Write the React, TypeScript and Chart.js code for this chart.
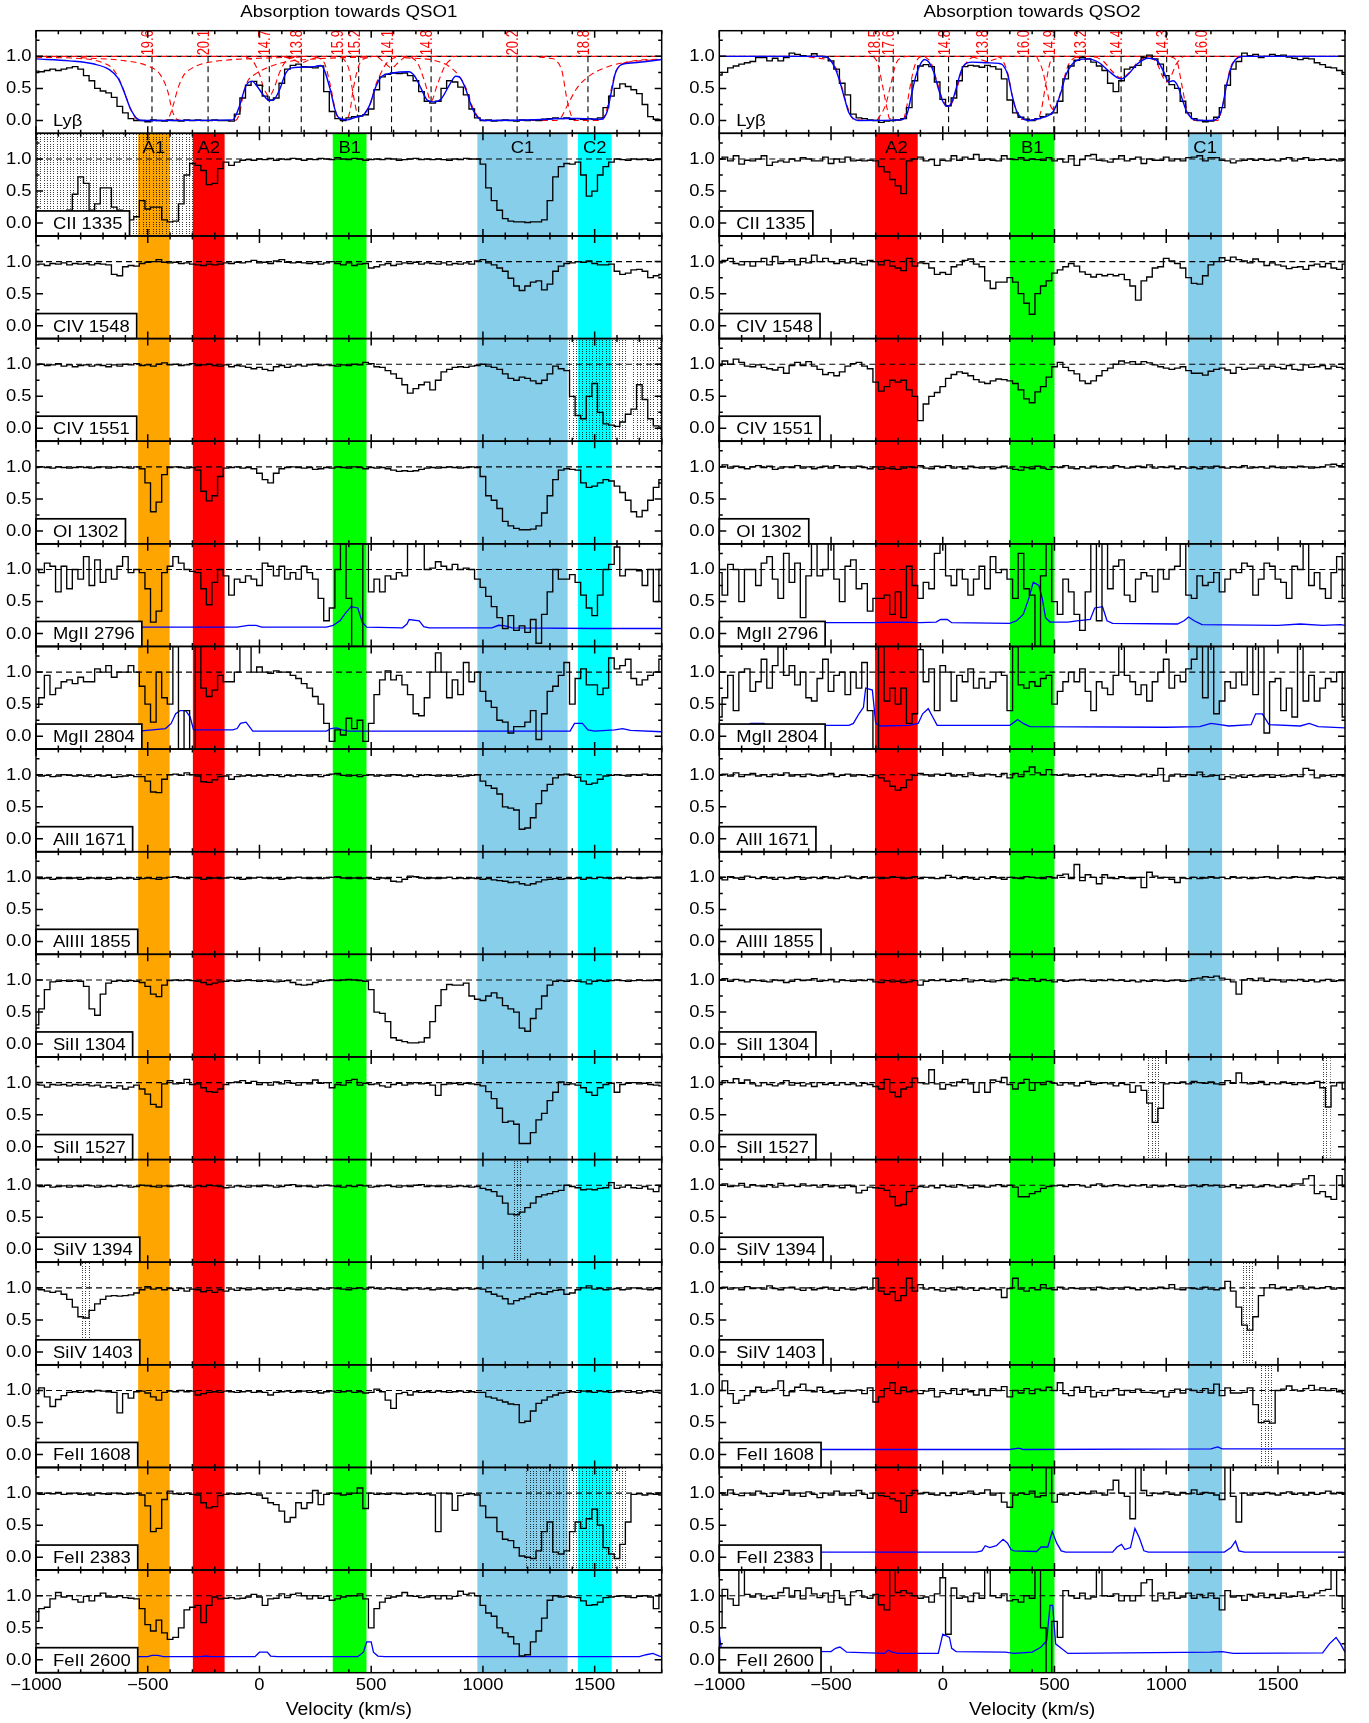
import React, { useEffect, useRef } from 'react';
import { Chart, registerables } from 'chart.js';
Chart.register(...registerables);

// ---------------- axes / grid ----------------
const V_START = -1000;
const V_STEP = 25;
const X_MIN = -1000;
const X_MAX = 1800;
const Y_MIN = -0.2;
const Y_MAX = 1.4;
const X_TICKS = [-1000, -500, 0, 500, 1000, 1500];
const Y_TICKS = [0, 0.5, 1.0];
const PANEL_LABELS = ['Ly\u03b2', 'CII 1335', 'CIV 1548', 'CIV 1551', 'OI 1302', 'MgII 2796', 'MgII 2804', 'AlII 1671', 'AlIII 1855', 'SiII 1304', 'SiII 1527', 'SiIV 1394', 'SiIV 1403', 'FeII 1608', 'FeII 2383', 'FeII 2600'];

// ---------------- QSO1 spectra (flux x100, bins of 25 km/s from -1000) ----------------
const L_LYB = [77,76,78,80,78,80,82,84, 80,70,62,50,46,43,36,22, 12,3,0,0,-2,1,0,-1, 1,0,-1,1,0,1,0,0, 1,0,0,-1,10,35,55,61, 55,38,32,35,58,80,86,88, 84,83,82,85,45,14,3,0, 4,6,7,9,18,48,68,72, 74,73,74,70,62,45,30,27, 30,50,62,60,52,40,18,4, 0,1,-1,0,1,0,-1,1, 0,1,0,2,3,4,3,4, 2,3,2,3,2,4,20,38, 50,57,53,48,42,25,6,2, 1];
const L_CII = [15,12,18,15,10,15,20,45, 72,62,20,30,55,55,25,20, 18,5,10,35,22,25,25,5, 2,3,30,75,93,90,82,60, 62,85,95,90,95,98,99,98, 100,99,101,98,100,99,101,100, 98,100,99,101,100,99,102,100, 99,101,100,98,99,100,99,101, 100,98,99,100,101,99,100,99, 100,99,98,100,99,101,100,100, 92,55,35,20,7,3,2,2, 1,2,2,5,35,72,88,93, 92,95,75,42,50,75,88,95, 100,99,98,100,99,100,98,99, 99];
const L_CIV1548 = [95,96,94,97,96,98,95,97, 96,97,95,97,96,95,80,78, 92,94,93,97,99,100,103,99, 98,99,97,98,96,95,94,96, 95,96,98,97,99,98,100,102, 98,99,97,101,103,99,98,99, 98,97,99,96,98,100,97,95, 98,94,96,97,90,92,95,97, 94,96,98,97,99,96,98,97, 96,98,95,97,96,98,96,101, 103,98,95,90,85,74,62,55, 62,68,70,56,65,85,93,97, 98,100,99,101,97,95,95,96, 85,80,82,87,88,85,75,78, 80];
const L_CIV1551 = [99,100,98,99,101,97,99,96, 98,99,97,99,98,96,99,97, 100,99,101,98,99,97,100,102, 99,100,98,99,101,98,99,100, 98,97,99,96,98,97,95,93, 95,92,90,96,98,95,97,99, 97,99,100,98,99,98,97,99, 98,100,99,103,101,96,95,90, 85,78,68,55,62,68,72,60, 75,88,92,95,96,95,97,98, 100,97,95,92,85,78,75,80, 78,74,70,75,85,97,93,90, 50,20,15,50,70,25,7,5, 3,10,22,30,68,45,15,4, 2];
const L_OI = [99,100,99,98,100,99,98,99, 100,99,98,99,100,98,99,100, 99,98,100,97,75,30,45,88, 99,100,99,98,99,95,62,47, 55,85,98,99,100,98,99,97, 90,80,75,90,97,99,100,99, 98,99,96,97,99,98,100,99, 98,100,99,97,99,98,99,97, 95,93,94,93,94,96,98,99, 98,99,100,99,98,99,100,99, 85,55,48,35,15,8,4,2, 2,3,8,28,55,80,95,97, 96,95,75,68,70,75,80,78, 70,60,48,30,22,32,48,68, 80];
const L_MG2796 = [100,95,110,105,65,105,70,100, 85,120,75,115,80,100,85,105, 120,95,100,95,70,18,35,95, 105,120,110,100,97,95,70,45, 80,100,90,60,85,80,90,85, 75,110,105,90,105,85,95,85, 105,95,85,55,20,40,100,145, 55,-25,-25,145,65,85,65,90, 85,95,90,145,145,140,100,102, 112,105,100,108,100,102,100,85, 72,58,42,25,8,28,5,12, 2,22,-15,30,65,100,85,85, 92,80,60,40,28,60,100,108, 135,90,100,100,98,75,100,50, 100];
const L_MG2804 = [45,60,95,65,75,85,88,82, 92,85,85,105,100,110,92,100, 100,110,100,78,50,22,100,60, 50,140,-25,40,-25,145,75,62, 72,95,85,85,100,145,140,100, 108,100,98,102,100,100,95,90, 82,75,62,50,20,-8,10,2, 28,12,25,-8,20,65,88,102, 88,95,80,65,35,32,60,100, 130,100,60,88,65,115,85,100, 70,55,45,25,22,5,15,15, 22,40,-5,35,70,78,95,115, 50,90,105,80,80,65,75,122, 105,110,120,90,80,88,95,100, 120];
const L_AL2 = [99,98,99,97,98,100,99,98, 99,98,97,99,98,99,96,97, 98,99,97,97,90,73,72,93, 100,101,99,103,100,98,89,88, 92,97,98,93,97,98,99,98, 99,98,100,99,97,99,98,100, 99,98,100,97,99,101,102,99, 98,99,97,99,100,98,99,98, 100,99,98,99,97,99,100,99, 98,99,98,99,97,98,99,100, 90,83,79,70,50,48,45,15, 17,33,55,75,85,95,100,101, 99,96,90,85,87,93,98,99, 100,99,98,100,99,101,99,100, 99];
const L_AL3 = [99,98,99,97,98,99,98,99, 97,98,99,98,99,97,98,99, 98,99,97,98,99,98,97,99, 100,101,99,98,100,99,97,98, 99,98,99,100,98,97,98,99, 100,99,98,99,97,98,99,100, 99,98,99,98,99,100,101,99, 98,99,98,99,98,97,99,98, 94,93,97,102,101,99,98,99, 98,99,100,98,99,98,99,98, 97,98,96,95,94,92,93,90, 88,90,93,96,97,98,97,98, 98,99,97,99,98,100,99,98, 99,98,100,99,98,99,100,99, 99];
const L_SI1304 = [30,55,85,97,98,99,98,99, 98,90,55,45,78,95,98,99, 98,99,98,96,90,78,74,92, 99,100,99,100,99,98,96,93, 95,97,98,99,98,99,100,99, 98,99,98,97,98,99,96,93, 92,93,96,98,99,100,99,100, 101,100,99,98,85,50,48,35, 10,6,4,2,2,3,10,35, 60,85,93,92,92,95,75,70, 68,75,80,72,60,55,50,25, 20,40,55,75,92,98,99,98, 99,98,97,94,98,99,98,99, 100,99,98,99,100,99,99,100, 99];
const L_SI1527 = [97,96,93,97,96,97,95,97, 96,97,95,96,93,95,92,95, 90,93,96,90,82,66,62,98, 103,98,99,105,97,98,92,86, 85,90,97,100,101,103,99,102, 97,100,96,101,98,103,99,96, 100,98,104,99,100,92,97,96, 103,105,96,99,97,98,95,93, 97,99,96,98,100,98,99,96, 80,97,98,99,97,99,98,97, 95,86,75,60,38,40,35,5, 5,22,42,52,72,85,101,97, 98,96,92,85,80,92,97,99, 85,97,99,100,98,99,97,96, 95];
const L_SI1394 = [99,98,100,97,98,99,97,99, 98,100,99,97,98,99,98,100, 99,97,98,100,99,98,97,99, 98,99,100,98,97,99,98,100, 99,98,96,97,99,98,97,99, 98,100,99,97,98,100,101,98, 99,98,97,99,100,99,98,97, 99,98,100,99,97,98,99,100, 98,97,99,98,100,101,98,99, 98,99,97,98,99,98,97,98, 95,93,90,83,72,55,54,58, 65,72,82,85,87,90,92,100, 98,96,93,94,93,95,96,104, 95,97,100,96,95,98,94,90, 98];
const L_SI1403 = [98,97,95,93,95,90,82,70, 55,53,65,75,82,87,88,87, 88,89,92,97,102,98,100,97, 99,96,99,95,98,97,94,96, 93,97,95,98,96,99,97,98, 99,97,98,100,96,99,98,97, 99,98,97,99,98,100,99,98, 97,99,100,98,101,99,98,100, 99,98,97,99,100,98,99,97, 98,99,98,97,99,100,98,99, 98,94,90,87,83,75,80,83, 86,90,92,90,94,96,97,90, 92,97,100,103,98,99,97,98, 99,97,98,100,99,98,97,99, 98];
const L_FE1608 = [95,104,90,75,86,92,97,98, 97,99,98,100,99,98,97,65, 95,88,98,99,96,90,85,97, 99,98,100,98,99,93,95,97, 98,97,99,98,97,98,99,97, 98,97,93,97,98,99,97,98, 99,97,98,96,98,99,97,98, 99,97,98,96,97,102,98,85, 72,95,97,93,98,97,98,97, 99,98,97,98,99,97,98,97, 97,90,88,85,82,79,78,50, 52,68,80,85,90,93,96,97, 98,97,99,98,97,99,98,97, 98,99,97,98,96,98,99,97, 96];
const L_FE2383 = [99,98,100,99,101,98,99,100, 98,99,97,100,99,98,100,99, 98,99,100,97,80,40,45,90, 103,99,98,100,98,97,85,77, 79,96,98,99,98,99,100,98, 97,92,85,82,72,55,62,85, 76,85,104,82,98,100,99,97, 98,100,108,76,100,98,99,98, 100,99,98,99,100,98,99,97, 40,100,99,73,96,98,99,97, 80,62,62,40,28,26,15,2, 0,-2,10,40,55,8,5,10, 40,55,45,60,75,50,15,5, -2,20,55,98,99,97,99,98, 97];
const L_FE2600 = [60,80,82,95,105,98,100,94, 90,99,92,100,104,98,98,100, 97,96,95,80,55,45,62,42, 32,35,50,78,82,85,58,85, 98,95,96,97,95,96,98,102, 98,85,95,96,103,97,102,104, 100,95,100,96,99,93,95,98, 100,100,103,95,50,80,90,96, 98,100,105,100,99,97,98,100, 95,100,95,99,107,102,104,100, 85,73,68,50,42,36,25,6, 8,28,45,65,93,100,98,99, 98,97,92,85,86,90,97,98, 99,100,98,97,99,100,98,80, 102];

// QSO1 error spectra [velocity, flux]
const L_MG2796_ERR = [[-1000,0.1],[-100,0.1],[-50,0.13],[-15,0.13],[10,0.1],[300,0.1],[330,0.13],[360,0.2],[385,0.32],[410,0.42],[440,0.4],[460,0.18],[480,0.1],[640,0.09],[660,0.15],[670,0.22],[715,0.2],[735,0.11],[760,0.09],[1040,0.09],[1070,0.13],[1100,0.12],[1130,0.09],[1500,0.08],[1800,0.08]];
const L_MG2804_ERR = [[-1000,0.08],[-540,0.08],[-420,0.12],[-395,0.2],[-375,0.35],[-355,0.4],[-330,0.4],[-310,0.3],[-295,0.1],[-120,0.1],[-100,0.12],[-85,0.2],[-60,0.22],[-45,0.15],[-30,0.08],[300,0.08],[320,0.12],[345,0.13],[370,0.1],[400,0.08],[1390,0.08],[1410,0.2],[1445,0.2],[1470,0.1],[1500,0.08],[1590,0.1],[1625,0.12],[1660,0.09],[1800,0.07]];
const L_FE2600_ERR = [[-1000,0.05],[-500,0.05],[-480,0.07],[-455,0.07],[-430,0.05],[-260,0.05],[-240,0.06],[-220,0.05],[-20,0.05],[0,0.12],[35,0.12],[50,0.06],[80,0.05],[440,0.05],[465,0.12],[480,0.28],[500,0.28],[510,0.12],[530,0.06],[560,0.05],[1700,0.05],[1730,0.08],[1760,0.1],[1790,0.06],[1800,0.05]];

// QSO1 Lyβ fit and components
const L_FIT = [[-1000,0.96],[-850,0.93],[-740,0.88],[-670,0.79],[-633,0.66],[-606,0.45],[-578,0.19],[-551,0.04],[-524,0],[-120,0.01],[-93,0.19],[-65,0.5],[-47,0.6],[-32,0.61],[-10,0.53],[17,0.4],[45,0.31],[63,0.32],[90,0.48],[118,0.74],[145,0.82],[182,0.83],[246,0.84],[274,0.86],[292,0.77],[319,0.45],[338,0.17],[356,0.04],[393,0.01],[429,0.05],[466,0.09],[493,0.24],[521,0.53],[548,0.69],[594,0.74],[668,0.76],[695,0.69],[723,0.5],[750,0.32],[778,0.29],[814,0.34],[851,0.56],[878,0.69],[897,0.67],[924,0.48],[952,0.19],[979,0.04],[1007,0],[1300,0.02],[1346,0.03],[1419,0.03],[1529,0.02],[1556,0.14],[1575,0.45],[1593,0.74],[1620,0.87],[1675,0.9],[1800,0.95]];
const L_COMP_V = [-481, -230, 44, 187, 371, 444, 591, 768, 1153, 1470];
const L_COMP_LOGN = ['19.6', '20.1', '14.7', '13.8', '15.9', '15.2', '14.1', '14.8', '20.2', '18.8'];
const L_COMP_PROFILES = [
  [[-1000,0.985],[-780,0.96],[-700,0.9],[-660,0.82],[-630,0.66],[-605,0.45],[-580,0.2],[-555,0.04],[-530,0],[-430,0],[-405,0.05],[-385,0.25],[-365,0.5],[-340,0.7],[-300,0.82],[-250,0.89],[-150,0.94],[0,0.97],[200,0.99]],
  [[-800,0.98],[-600,0.93],[-500,0.85],[-445,0.72],[-410,0.45],[-390,0.15],[-370,0.02],[-350,0],[-110,0],[-90,0.1],[-70,0.45],[-50,0.63],[-20,0.72],[20,0.8],[100,0.9],[250,0.96],[500,0.99]],
  [[-60,0.99],[-30,0.93],[0,0.72],[20,0.5],[44,0.38],[65,0.5],[90,0.75],[120,0.93],[160,0.99]],
  [[110,0.99],[150,0.95],[187,0.9],[225,0.95],[265,0.99]],
  [[250,0.99],[290,0.9],[320,0.5],[340,0.15],[355,0.02],[390,0.02],[405,0.15],[420,0.5],[450,0.9],[490,0.99]],
  [[370,0.99],[400,0.8],[420,0.4],[444,0.06],[470,0.12],[495,0.25],[520,0.55],[545,0.75],[570,0.9],[610,0.99]],
  [[530,0.99],[560,0.9],[591,0.82],[620,0.9],[650,0.99]],
  [[680,0.99],[710,0.88],[740,0.6],[768,0.3],[795,0.55],[830,0.85],[870,0.99]],
  [[650,0.98],[800,0.92],[880,0.75],[925,0.5],[955,0.2],[985,0.03],[1010,0],[1320,0],[1350,0.05],[1380,0.25],[1420,0.5],[1470,0.68],[1530,0.8],[1600,0.88],[1700,0.93],[1800,0.95]],
  [[1250,0.99],[1300,0.97],[1330,0.93],[1355,0.75],[1375,0.35],[1395,0.08],[1410,0],[1530,0],[1550,0.12],[1570,0.42],[1590,0.72],[1615,0.86],[1660,0.92],[1800,0.96]],
];

// ---------------- QSO2 spectra ----------------
const R_LYB = [71,75,82,85,88,90,92,98, 98,93,97,93,98,105,103,101, 100,104,100,99,93,80,58,40, 10,4,3,1,0,-3,-1,0, 1,3,20,62,85,87,84,60, 33,23,35,62,84,86,85,83, 86,84,80,65,32,12,5,2, 0,3,6,10,12,30,65,85, 94,98,96,91,85,78,58,45, 62,80,83,86,98,102,96,88, 70,56,50,30,12,3,0,-2, -1,5,20,55,80,92,105,101, 103,98,100,103,101,102,99,97, 95,97,96,90,87,83,82,78, 72];
const R_CII = [100,103,97,105,92,98,97,100, 105,90,95,97,95,100,97,102, 100,97,97,103,93,100,95,103, 97,98,97,98,97,88,80,68, 58,46,97,100,103,97,99,90, 98,97,105,98,103,100,107,98, 100,98,97,105,100,99,102,98, 100,99,98,102,97,100,95,105, 90,99,105,107,98,97,95,100, 105,97,100,103,93,100,98,98, 103,97,100,97,102,103,105,97, 102,102,98,97,94,97,98,100, 98,100,98,99,97,100,102,97, 100,102,98,99,100,98,99,97, 98];
const R_CIV1548 = [98,102,105,97,95,100,93,100, 105,95,108,97,100,103,95,105, 98,110,100,105,100,97,103,98, 105,97,95,102,100,95,102,93, 90,86,105,93,98,97,90,80, 83,80,92,95,102,104,96,92, 70,58,68,68,75,68,50,35, 18,50,62,70,82,87,92,97, 93,84,80,76,80,78,80,78, 80,72,62,40,70,76,90,92, 105,101,97,90,75,66,65,78, 95,100,106,102,107,103,101,98, 104,100,94,98,95,93,89,91, 92,88,94,96,92,97,90,88, 96];
const R_CIV1551 = [98,105,100,108,103,97,96,99, 95,93,91,95,86,98,103,98, 104,97,92,84,87,82,88,97, 101,103,97,93,72,58,65,75, 72,75,60,50,12,38,50,56, 65,78,84,88,86,82,76,72, 70,74,77,76,74,70,60,46, 40,57,65,80,96,103,95,90, 85,74,70,74,82,90,94,100, 105,102,104,100,104,102,99,96, 94,92,94,96,90,86,86,83, 89,92,94,91,86,95,92,94, 94,97,93,97,95,93,98,92, 91,99,95,96,98,93,97,95, 93];
const R_OI = [100,103,98,101,99,97,100,102, 99,101,96,98,100,99,102,98, 100,97,99,101,98,102,99,100, 98,101,99,97,100,96,98,97, 96,98,100,99,102,98,97,101, 99,102,98,100,97,101,99,98, 100,97,99,101,98,96,95,99, 97,101,98,96,100,99,102,98, 97,100,98,101,99,100,98,102, 100,98,99,101,99,103,98,100, 99,101,97,100,98,99,97,100, 98,101,99,98,100,99,102,98, 99,100,98,101,99,98,100,99, 101,100,98,99,100,103,104,102, 105];
const R_MG2796 = [95,60,108,100,50,100,100,75, 110,120,85,55,125,80,110,25, 90,145,90,100,145,85,50,105, 115,70,78,35,55,55,60,30, 65,25,105,75,55,80,70,125, 140,90,75,100,85,60,85,105, 70,120,95,100,85,55,125,70, 60,-20,90,145,50,30,85,65, 30,5,65,145,20,145,70,105, 115,60,50,85,95,90,65,100, 85,100,105,145,60,55,90,75, 80,95,65,85,100,95,110,105, 60,85,110,105,85,80,55,105, 100,145,75,95,70,55,95,120, 55];
const R_MG2804 = [30,60,95,40,100,105,70,85, 120,75,110,140,95,110,80,100, 60,55,90,120,70,95,100,65, 100,75,115,40,-25,145,55,75, 50,75,20,35,135,85,105,40, 110,100,55,95,85,105,75,90, 75,85,100,95,40,140,80,75, 85,78,90,95,50,70,85,100, 85,105,70,40,85,75,65,95, 140,95,85,65,80,55,85,100, 120,75,95,85,105,120,145,60, 145,35,55,85,75,100,80,145, 65,145,5,85,90,40,75,30, 145,55,95,55,75,90,85,100, 30];
const R_AL2 = [99,101,98,103,97,100,102,98, 100,97,101,99,103,98,100,97, 101,99,98,100,102,97,99,101, 98,100,99,97,99,95,90,82, 76,80,92,99,102,100,98,101, 99,102,98,100,97,103,99,98, 101,100,97,102,95,102,97,105, 112,103,100,108,100,99,101,98, 99,100,97,101,98,100,99,98, 97,100,99,98,101,97,99,110, 90,98,101,97,100,99,104,97, 98,99,93,97,95,98,96,99, 97,98,100,96,99,97,98,100, 97,110,107,95,98,99,97,100, 98];
const R_AL3 = [98,96,101,99,97,102,100,98, 101,99,97,100,98,99,101,97, 99,100,98,101,99,98,100,102, 99,98,101,99,100,98,99,101, 100,98,99,101,98,100,99,98, 99,103,100,98,101,99,97,100, 98,101,99,97,100,99,98,101, 100,99,98,101,99,103,105,98, 120,95,104,100,90,104,99,98, 101,99,98,100,84,108,102,99, 100,97,92,99,98,100,98,99, 101,99,100,98,101,99,100,98, 99,100,101,99,98,100,99,101, 100,99,98,101,100,99,100,98, 97];
const R_SI1304 = [100,102,98,101,99,97,100,99, 98,97,100,99,96,98,101,99, 100,102,98,99,101,97,100,99, 98,100,99,101,97,96,99,97, 98,96,97,99,92,98,100,99, 101,98,100,99,102,97,99,100, 98,97,99,101,100,103,100,99, 102,98,101,99,97,100,98,99, 100,101,99,98,100,99,101,99, 100,98,99,97,99,98,100,99, 98,99,100,98,99,102,103,105, 104,106,103,101,97,78,100,102, 99,103,98,101,100,97,100,99, 101,98,100,97,99,101,98,99, 99];
const R_SI1527 = [97,103,100,106,99,104,98,95, 100,97,95,98,103,96,99,95, 98,94,100,97,99,96,100,97, 98,95,99,97,94,90,105,85, 78,90,93,107,100,98,120,98, 90,97,95,101,105,98,85,100, 85,104,102,108,97,90,99,105, 88,100,97,102,99,96,100,98, 95,99,102,97,99,100,98,95, 99,97,85,95,88,68,38,60, 98,100,99,101,98,102,100,99, 101,98,97,103,99,115,100,98, 99,102,97,100,98,101,99,97, 100,98,99,102,92,62,95,100, 90];
const R_SI1394 = [100,102,98,99,103,97,101,99, 98,101,97,103,99,100,98,102, 99,100,97,101,98,99,96,100, 98,88,92,97,96,95,92,82, 68,70,90,95,98,97,99,96, 100,98,97,101,99,96,100,98, 97,99,101,98,100,97,82,82, 87,90,95,98,99,100,98,101, 101,99,97,100,102,98,99,101, 99,98,100,99,101,97,100,98, 99,101,98,97,99,100,98,101, 99,100,97,98,101,96,99,100, 97,98,101,99,97,100,98,102, 102,110,115,87,90,82,78,115, 98];
const R_SI1403 = [99,101,98,100,97,102,99,100, 98,103,99,97,100,101,98,96, 100,97,99,101,98,96,100,98, 97,99,101,98,115,95,90,94, 80,88,115,95,105,98,100,97, 95,99,97,101,98,100,96,99, 98,100,97,85,99,115,98,95, 100,97,105,99,97,101,98,100, 99,98,100,97,101,99,98,100, 98,101,99,97,100,98,99,101, 99,105,98,97,100,99,98,101, 98,97,99,110,95,70,42,34, 55,88,100,105,99,101,97,100, 103,98,101,99,100,102,98,100, 99];
const R_FE1608 = [100,115,95,80,85,92,98,105, 97,100,103,115,92,98,105,110, 100,98,105,97,98,95,96,100, 99,101,95,104,82,90,103,112, 95,105,98,100,95,99,103,90, 97,95,103,94,102,98,93,102, 92,103,100,106,90,100,96,103, 95,102,100,105,100,112,95,92, 105,97,106,90,97,92,100,103, 93,100,97,102,97,97,96,99, 90,97,102,96,102,100,97,103, 96,110,92,104,96,96,97,104, 78,50,52,49,100,102,107,101, 99,103,108,101,104,100,103,98, 95];
const R_FE2383 = [100,97,105,98,96,100,97,103, 99,95,100,98,104,97,100,95, 102,98,93,100,97,103,97,100, 96,104,98,92,100,96,95,91, 88,70,96,104,99,101,98,97, 100,96,101,98,100,103,98,100, 105,97,100,86,78,97,100,98, 103,94,96,140,86,98,97,100, 98,101,99,103,100,97,105,120, 100,95,60,140,104,96,100,99, 102,98,97,101,99,105,98,101, 100,97,90,140,95,55,100,97, 100,98,101,99,97,100,102,98, 100,97,101,98,100,103,99,101, 98];
const R_FE2600 = [50,110,95,85,140,102,98,103, 95,99,96,105,112,98,108,95, 112,103,97,104,90,108,96,86, 106,108,98,96,102,86,78,140, 105,108,104,100,96,98,90,103, 128,40,112,96,98,91,104,96, 140,100,97,103,92,94,90,100, 96,140,50,-25,60,35,108,100, 96,104,95,98,140,100,99,103, 92,100,92,100,120,125,92,104, 95,105,96,98,104,96,102,97, 104,96,78,108,98,100,93,102, 98,104,97,102,96,104,98,99, 106,97,101,104,108,110,140,100, 80];

const R_MG2796_ERR = [[-1000,0.17],[-300,0.17],[-200,0.18],[-100,0.17],[-30,0.18],[-10,0.22],[20,0.22],[40,0.17],[300,0.16],[330,0.2],[360,0.3],[385,0.55],[405,0.8],[430,0.75],[445,0.55],[460,0.25],[480,0.18],[560,0.18],[600,0.2],[660,0.22],[680,0.4],[715,0.42],[735,0.2],[760,0.16],[1050,0.15],[1080,0.2],[1100,0.26],[1125,0.2],[1160,0.14],[1500,0.13],[1600,0.15],[1700,0.13],[1780,0.14],[1800,0.13]];
const R_MG2804_ERR = [[-1000,0.17],[-870,0.17],[-860,0.2],[-800,0.2],[-790,0.17],[-420,0.17],[-400,0.2],[-375,0.35],[-355,0.45],[-345,0.75],[-315,0.72],[-300,0.2],[-280,0.16],[-150,0.17],[-110,0.2],[-90,0.35],[-65,0.43],[-45,0.3],[-25,0.17],[300,0.17],[320,0.22],[335,0.26],[360,0.2],[390,0.15],[1000,0.14],[1150,0.15],[1200,0.2],[1240,0.18],[1280,0.16],[1380,0.18],[1400,0.35],[1430,0.35],[1460,0.18],[1600,0.16],[1640,0.2],[1680,0.15],[1800,0.13]];
const R_FE1608_ERR = [[-1000,0.08],[300,0.08],[340,0.1],[360,0.08],[1200,0.09],[1230,0.12],[1250,0.09],[1800,0.09]];
const R_FE2383_ERR = [[-1000,0.08],[150,0.08],[175,0.1],[190,0.18],[210,0.15],[240,0.18],[270,0.28],[290,0.22],[305,0.12],[320,0.1],[420,0.09],[440,0.16],[470,0.16],[490,0.4],[510,0.22],[530,0.1],[550,0.08],[760,0.08],[780,0.16],[800,0.2],[815,0.12],[840,0.15],[860,0.45],[880,0.3],[900,0.1],[920,0.08],[1260,0.08],[1290,0.15],[1310,0.25],[1325,0.1],[1350,0.08],[1800,0.08]];
const R_FE2600_ERR = [[-1000,0.4],[-990,0.15],[-930,0.15],[-910,0.18],[-890,0.14],[-500,0.13],[-480,0.18],[-460,0.2],[-430,0.12],[-260,0.1],[-245,0.15],[-225,0.12],[-200,0.1],[-20,0.1],[0,0.4],[30,0.35],[40,0.18],[60,0.13],[280,0.12],[320,0.1],[400,0.12],[440,0.2],[465,0.3],[480,0.85],[492,0.85],[505,0.25],[530,0.18],[560,0.1],[1200,0.12],[1250,0.13],[1300,0.1],[1700,0.11],[1730,0.25],[1760,0.35],[1780,0.25],[1800,0.12]];

const R_FIT = [[-1000,1],[-530,1],[-505,0.95],[-480,0.8],[-460,0.6],[-440,0.35],[-420,0.12],[-400,0.03],[-380,0],[-185,0.01],[-160,0.1],[-140,0.4],[-120,0.7],[-100,0.88],[-80,0.95],[-60,0.9],[-40,0.75],[-20,0.5],[0,0.3],[20,0.22],[40,0.28],[60,0.5],[80,0.75],[100,0.88],[130,0.91],[200,0.9],[250,0.89],[270,0.86],[290,0.72],[310,0.4],[330,0.15],[350,0.05],[380,0],[420,0.02],[460,0.06],[490,0.12],[510,0.25],[530,0.45],[550,0.7],[580,0.88],[610,0.95],[650,0.96],[700,0.9],[740,0.78],[780,0.67],[800,0.65],[830,0.72],[870,0.88],[920,0.97],[960,0.93],[990,0.75],[1010,0.6],[1030,0.62],[1050,0.55],[1070,0.35],[1090,0.15],[1110,0.05],[1130,0.01],[1200,0],[1230,0.03],[1250,0.2],[1270,0.55],[1290,0.82],[1310,0.95],[1340,1],[1800,1]];
const R_COMP_V = [-285, -222, 26, 200, 381, 497, 638, 798, 1002, 1180];
const R_COMP_LOGN = ['18.5', '17.6', '14.8', '13.8', '16.0', '14.9', '13.2', '14.4', '14.3', '16.0'];
const R_COMP_PROFILES = [
  [[-600,0.99],[-530,0.96],[-500,0.93],[-470,0.75],[-450,0.5],[-425,0.2],[-400,0.02],[-300,0],[-280,0.08],[-255,0.25],[-230,0.6],[-210,0.88],[-185,0.98],[-150,1]],
  [[-310,1],[-290,0.88],[-270,0.55],[-250,0.2],[-238,0.03],[-180,0],[-165,0.15],[-150,0.45],[-130,0.8],[-110,0.97],[-90,1]],
  [[-80,1],[-50,0.88],[-25,0.6],[0,0.32],[26,0.22],[45,0.3],[65,0.52],[90,0.8],[120,0.96],[150,1]],
  [[130,1],[170,0.95],[200,0.92],[230,0.95],[270,1]],
  [[240,1],[260,0.97],[280,0.85],[295,0.68],[310,0.4],[330,0.13],[350,0.02],[420,0.01],[440,0.15],[460,0.55],[480,0.9],[500,1]],
  [[420,1],[445,0.8],[465,0.5],[480,0.25],[497,0.17],[515,0.3],[535,0.55],[560,0.85],[590,0.98],[620,1]],
  [[590,1],[615,0.97],[638,0.95],[660,0.97],[690,1]],
  [[680,1],[720,0.92],[760,0.76],[798,0.66],[835,0.75],[875,0.92],[920,1]],
  [[930,1],[960,0.88],[985,0.68],[1002,0.6],[1020,0.68],[1045,0.88],[1075,1]],
  [[1020,1],[1050,0.9],[1070,0.55],[1090,0.2],[1110,0.04],[1125,0],[1230,0],[1245,0.12],[1265,0.45],[1285,0.8],[1310,0.95],[1340,1]],
];

// absorber bands (velocity ranges)
const L_BAND_V = [[-543, -402], [-298, -156], [328, 479], [975, 1379], [1425, 1576]];
const L_BAND_LABELS = ['A1', 'A2', 'B1', 'C1', 'C2'];
const L_BAND_COLORS = ['#ffa500', '#ff0000', '#00ff00', '#87ceeb', '#00ffff'];
const R_BAND_V = [[-303, -112], [301, 500], [1098, 1250]];
const R_BAND_LABELS = ['A2', 'B1', 'C1'];
const R_BAND_COLORS = ['#ff0000', '#00ff00', '#87ceeb'];

// masked (blended) regions: [panel, v0, v1]
const L_MASKS = [[1, -1000, -297], [3, 1382, 1640], [3, 1669, 1800], [11, 1133, 1175], [12, -799, -757], [14, 1190, 1650]];
const R_MASKS = [[10, 915, 968], [10, 1697, 1736], [12, 1337, 1402], [13, 1421, 1474]];

// ---------------- layout constants ----------------
const FONT = '"Liberation Sans", Arial, Helvetica, sans-serif';
const SX = 1.15;
const PAD_TOP = 30.7;
const X_AXIS_H = 50.3;
const CANVAS_H = 1723;

const clamp = (v: number) => Math.max(Y_MIN, Math.min(Y_MAX, v));

function drawText(ctx: CanvasRenderingContext2D, text: string, x: number, y: number, size: number, align: CanvasTextAlign, baseline: CanvasTextBaseline, color = '#000', sx = SX) {
  ctx.save();
  ctx.font = `${size}px ${FONT}`;
  ctx.fillStyle = color;
  ctx.textAlign = align;
  ctx.textBaseline = baseline;
  ctx.translate(x, y);
  ctx.scale(sx, 1);
  ctx.fillText(text, 0, 0);
  ctx.restore();
}

function makeChart(canvas: HTMLCanvasElement, col: any) {
  const n = col.flux.length;
  const datasets: any[] = [];
  for (let k = 0; k < n; k++) {
    const yID = 'y' + k;
    datasets.push({
      data: col.flux[k].map((f: number, i: number) => ({ x: V_START + i * V_STEP, y: clamp(f / 100) })),
      xAxisID: 'x', yAxisID: yID, borderColor: '#000', borderWidth: 1.35, pointRadius: 0,
      stepped: 'middle', fill: false, order: 2,
    });
    datasets.push({
      data: [{ x: X_MIN, y: 1 }, { x: X_MAX, y: 1 }],
      xAxisID: 'x', yAxisID: yID, borderColor: '#000', borderWidth: 1.1, borderDash: [6, 4],
      pointRadius: 0, fill: false, order: 6,
    });
    const err = col.err[k];
    if (err) {
      datasets.push({
        data: err.map((p: number[]) => ({ x: p[0], y: p[1] })),
        xAxisID: 'x', yAxisID: yID, borderColor: '#0000ff', borderWidth: 1.3, pointRadius: 0,
        fill: false, order: 3,
      });
    }
  }
  col.compProfiles.forEach((pts: number[][]) => {
    datasets.push({
      data: pts.map((p) => ({ x: p[0], y: p[1] })),
      xAxisID: 'x', yAxisID: 'y0', borderColor: '#ff0000', borderWidth: 1.1, borderDash: [6, 4],
      pointRadius: 0, fill: false, cubicInterpolationMode: 'monotone', order: 4,
    });
  });
  datasets.push({
    data: [{ x: X_MIN, y: 1 }, { x: X_MAX, y: 1 }],
    xAxisID: 'x', yAxisID: 'y0', borderColor: '#ff0000', borderWidth: 1.1, borderDash: [6, 4], borderDashOffset: 5,
    pointRadius: 0, fill: false, order: 5,
  });
  datasets.push({
    data: col.fit.map((p: number[]) => ({ x: p[0], y: p[1] })),
    xAxisID: 'x', yAxisID: 'y0', borderColor: '#0000ff', borderWidth: 1.4, pointRadius: 0,
    fill: false, cubicInterpolationMode: 'monotone', order: 1,
  });

  const hidden = { display: false };
  const scales: any = {
    x: {
      type: 'linear', position: 'bottom', min: X_MIN, max: X_MAX,
      ticks: { display: false }, grid: hidden, border: hidden,
      afterFit: (s: any) => { s.height = X_AXIS_H; },
    },
  };
  for (let k = n - 1; k >= 0; k--) {
    scales['y' + k] = {
      type: 'linear', position: 'left', stack: 'panels', stackWeight: 1, min: Y_MIN, max: Y_MAX,
      ticks: { display: false }, grid: hidden, border: hidden,
      afterFit: (s: any) => { s.width = col.axisW; },
    };
  }

  const panelScales = (chart: any) => {
    const arr = [];
    for (let k = 0; k < n; k++) arr.push(chart.scales['y' + k]);
    return arr;
  };

  const plugin = {
    id: 'qsoDecor',
    beforeDatasetsDraw(chart: any) {
      const ctx = chart.ctx as CanvasRenderingContext2D;
      const xs = chart.scales.x;
      const ps = panelScales(chart);
      let top = Infinity, bottom = -Infinity;
      for (let k = 1; k < n; k++) { top = Math.min(top, ps[k].top); bottom = Math.max(bottom, ps[k].bottom); }
      ctx.save();
      col.bandV.forEach((b: number[], i: number) => {
        const x0 = xs.getPixelForValue(b[0]);
        const x1 = xs.getPixelForValue(b[1]);
        ctx.fillStyle = col.bandColors[i];
        ctx.fillRect(x0, top, x1 - x0, bottom - top);
      });
      // Lyβ component markers
      const y0 = ps[0];
      ctx.strokeStyle = '#000';
      ctx.lineWidth = 1.1;
      ctx.setLineDash([6, 4]);
      col.compV.forEach((v: number) => {
        const x = xs.getPixelForValue(v);
        ctx.beginPath();
        ctx.moveTo(x, y0.getPixelForValue(1.0));
        ctx.lineTo(x, y0.bottom);
        ctx.stroke();
      });
      ctx.restore();
    },
    afterDatasetsDraw(chart: any) {
      const ctx = chart.ctx as CanvasRenderingContext2D;
      const xs = chart.scales.x;
      const a = chart.chartArea;
      const ps = panelScales(chart);

      // masked regions (dotted)
      col.masks.forEach((m: number[]) => {
        const s = ps[m[0]];
        const x0 = xs.getPixelForValue(m[1]);
        const x1 = xs.getPixelForValue(m[2]);
        ctx.save();
        ctx.beginPath();
        ctx.rect(x0, s.top, x1 - x0, s.bottom - s.top);
        ctx.clip();
        ctx.fillStyle = 'rgba(0,0,0,0.75)';
        for (let x = x0 + 1; x < x1; x += 3.3) {
          for (let y = s.top + 1; y < s.bottom; y += 2.3) ctx.fillRect(Math.round(x), Math.round(y), 1, 1);
        }
        ctx.restore();
      });

      // Lyβ column-density labels (rotated, reading upwards)
      const y0 = ps[0];
      ctx.save();
      ctx.beginPath();
      ctx.rect(a.left, y0.top, a.right - a.left, y0.bottom - y0.top);
      ctx.clip();
      col.compV.forEach((v: number, i: number) => {
        const x = xs.getPixelForValue(v) + 1;
        const y = y0.getPixelForValue(1.0) - 1;
        ctx.save();
        ctx.translate(x, y);
        ctx.rotate(-Math.PI / 2);
        ctx.scale(1, 1.25);
        ctx.font = `13px ${FONT}`;
        ctx.fillStyle = '#ff0000';
        ctx.textAlign = 'left';
        ctx.textBaseline = 'alphabetic';
        ctx.fillText(col.compLabels[i], 0, 0);
        ctx.restore();
      });
      ctx.restore();

      // band labels
      const s1 = ps[1];
      col.bandV.forEach((b: number[], i: number) => {
        const xc = xs.getPixelForValue((b[0] + b[1]) / 2);
        drawText(ctx, col.bandLabels[i], xc, s1.getPixelForValue(1.1), 16, 'center', 'alphabetic');
      });

      // panel label boxes
      for (let k = 0; k < n; k++) {
        const s = ps[k];
        const label = PANEL_LABELS[k];
        ctx.save();
        ctx.font = `16px ${FONT}`;
        const w = ctx.measureText(label).width * SX;
        ctx.restore();
        const baseY = s.getPixelForValue(0) + 5.8;
        if (k > 0) {
          const bx = a.left;
          const by = s.getPixelForValue(0.19);
          const bw = 17 + w + 7;
          const bh = s.bottom - by;
          ctx.save();
          ctx.fillStyle = '#fff';
          ctx.fillRect(bx, by, bw, bh);
          ctx.strokeStyle = '#000';
          ctx.lineWidth = 1.7;
          ctx.strokeRect(bx, by, bw, bh);
          ctx.restore();
        }
        drawText(ctx, label, a.left + 17, baseY, 16, 'left', 'alphabetic');
      }

      // frames and inward ticks
      ctx.save();
      ctx.strokeStyle = '#000';
      ctx.lineWidth = 1.5;
      for (let k = 0; k < n; k++) {
        const s = ps[k];
        ctx.strokeRect(a.left, s.top, a.right - a.left, s.bottom - s.top);
        ctx.beginPath();
        for (let v = X_MIN; v <= X_MAX; v += 100) {
          const x = xs.getPixelForValue(v);
          const len = v % 500 === 0 ? 7 : 3.5;
          ctx.moveTo(x, s.top); ctx.lineTo(x, s.top + len);
          ctx.moveTo(x, s.bottom); ctx.lineTo(x, s.bottom - len);
        }
        for (let t = 0; t <= 1.26; t += 0.25) {
          const y = s.getPixelForValue(t);
          const len = Math.abs(t * 2 - Math.round(t * 2)) < 0.01 ? 7 : 3.5;
          ctx.moveTo(a.left, y); ctx.lineTo(a.left + len, y);
          ctx.moveTo(a.right, y); ctx.lineTo(a.right - len, y);
        }
        ctx.stroke();
      }
      ctx.restore();

      // y tick labels
      for (let k = 0; k < n; k++) {
        const s = ps[k];
        Y_TICKS.forEach((t) => {
          drawText(ctx, t.toFixed(1), a.left - 4.5, s.getPixelForValue(t) + 0.5, 16, 'right', 'middle');
        });
      }
      // x tick labels (bottom panel)
      let bottom = -Infinity;
      ps.forEach((s: any) => { bottom = Math.max(bottom, s.bottom); });
      X_TICKS.forEach((v) => {
        const lab = v < 0 ? '\u2212' + Math.abs(v) : String(v);
        drawText(ctx, lab, xs.getPixelForValue(v), bottom + 17, 16, 'center', 'alphabetic');
      });
      const xc = (a.left + a.right) / 2;
      drawText(ctx, 'Velocity (km/s)', xc, bottom + 42, 18, 'center', 'alphabetic', '#000', 1.08);
      drawText(ctx, col.title, xc, 16.5, 17, 'center', 'alphabetic', '#000', 1.1);
    },
  };

  return new Chart(canvas, {
    type: 'line',
    data: { datasets },
    options: {
      responsive: false,
      maintainAspectRatio: false,
      devicePixelRatio: 1,
      animation: false,
      events: [],
      parsing: true,
      layout: { padding: { top: PAD_TOP, left: 0, right: col.padRight, bottom: 0 } },
      plugins: { legend: { display: false }, title: { display: false }, tooltip: { enabled: false } },
      scales,
    } as any,
    plugins: [plugin],
  });
}

const LEFT_COL = {
  title: 'Absorption towards QSO1',
  flux: [L_LYB, L_CII, L_CIV1548, L_CIV1551, L_OI, L_MG2796, L_MG2804, L_AL2, L_AL3, L_SI1304, L_SI1527, L_SI1394, L_SI1403, L_FE1608, L_FE2383, L_FE2600],
  err: [null, null, null, null, null, L_MG2796_ERR, L_MG2804_ERR, null, null, null, null, null, null, null, null, L_FE2600_ERR],
  fit: L_FIT,
  compV: L_COMP_V,
  compLabels: L_COMP_LOGN,
  compProfiles: L_COMP_PROFILES,
  bandV: L_BAND_V,
  bandLabels: L_BAND_LABELS,
  bandColors: L_BAND_COLORS,
  masks: L_MASKS,
  axisW: 36,
  padRight: 680 - 661.7,
};

const RIGHT_COL = {
  title: 'Absorption towards QSO2',
  flux: [R_LYB, R_CII, R_CIV1548, R_CIV1551, R_OI, R_MG2796, R_MG2804, R_AL2, R_AL3, R_SI1304, R_SI1527, R_SI1394, R_SI1403, R_FE1608, R_FE2383, R_FE2600],
  err: [null, null, null, null, null, R_MG2796_ERR, R_MG2804_ERR, null, null, null, null, null, null, R_FE1608_ERR, R_FE2383_ERR, R_FE2600_ERR],
  fit: R_FIT,
  compV: R_COMP_V,
  compLabels: R_COMP_LOGN,
  compProfiles: R_COMP_PROFILES,
  bandV: R_BAND_V,
  bandLabels: R_BAND_LABELS,
  bandColors: R_BAND_COLORS,
  masks: R_MASKS,
  axisW: 719.3 - 680,
  padRight: 689 - 665,
};

export default function App() {
  const leftRef = useRef<HTMLCanvasElement>(null);
  const rightRef = useRef<HTMLCanvasElement>(null);
  useEffect(() => {
    const charts: Chart[] = [];
    if (leftRef.current) charts.push(makeChart(leftRef.current, LEFT_COL));
    if (rightRef.current) charts.push(makeChart(rightRef.current, RIGHT_COL));
    return () => charts.forEach((c) => c.destroy());
  }, []);
  return (
    <div style={{ position: 'absolute', left: 0, top: 0, width: 1369, height: CANVAS_H, background: '#fff' }}>
      <canvas ref={leftRef} width={680} height={CANVAS_H} style={{ position: 'absolute', left: 0, top: 0, width: 680, height: CANVAS_H }} />
      <canvas ref={rightRef} width={689} height={CANVAS_H} style={{ position: 'absolute', left: 680, top: 0, width: 689, height: CANVAS_H }} />
    </div>
  );
}
